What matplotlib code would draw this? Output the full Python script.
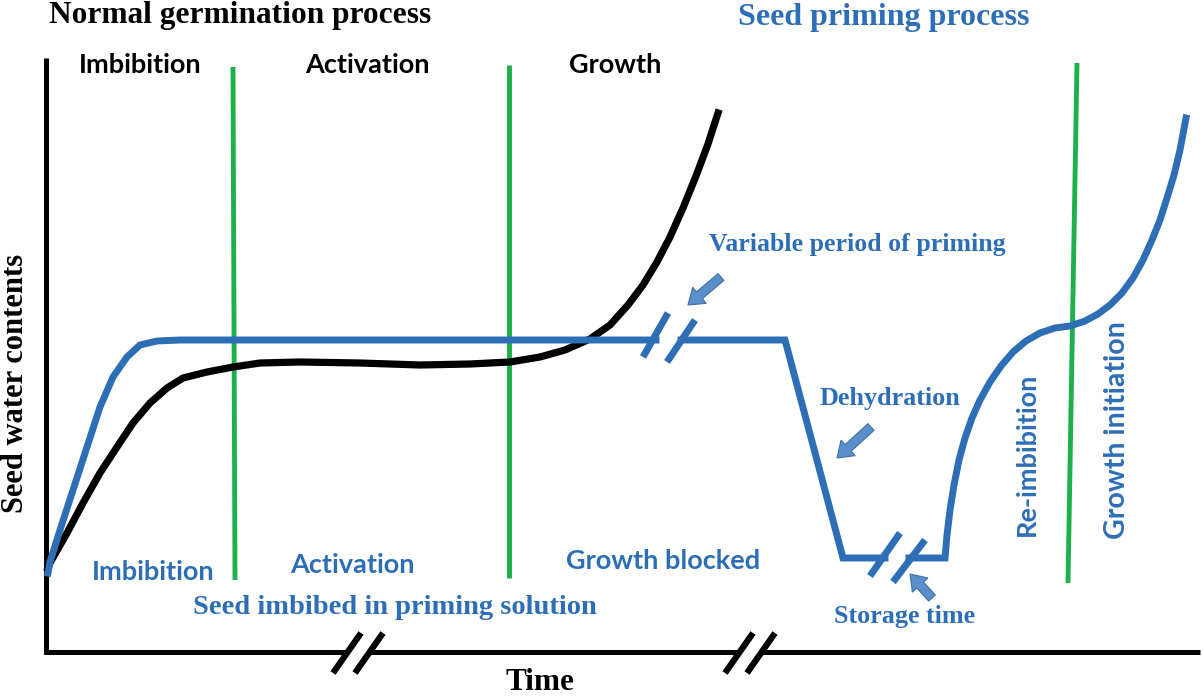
import matplotlib.pyplot as plt
from matplotlib.patches import FancyArrow

# curve points (time, water content) in image pixel units
black_t = [48, 50, 67, 83, 100, 117, 133, 150, 167, 183, 207, 233, 260, 300, 360, 420,
           470, 510, 540, 565, 590, 610, 628, 643, 657, 670, 683, 696, 708, 718]
black_w = [568, 563, 533, 503, 473, 447, 423, 403, 388, 378, 372, 367, 363, 362, 363, 365,
           364, 362, 357, 350, 339, 325, 305, 285, 262, 237, 208, 176, 144, 113]

# priming curve, split at the two breaks
prime1_t = [48, 50, 60, 73, 87, 100, 113, 127, 140, 157, 180, 656]
prime1_w = [573, 562, 530, 490, 447, 407, 377, 357, 345, 341, 340, 340]
prime2_t = [681, 785, 843, 885]
prime2_w = [340, 340, 558, 558]
prime3_t = [909, 945, 947, 950, 954, 959, 965, 972, 980, 990, 1001, 1013, 1026, 1040,
            1055, 1070, 1085, 1098, 1110, 1122, 1133, 1143, 1152, 1160, 1167, 1174,
            1180, 1186]
prime3_w = [558, 558, 535, 510, 485, 460, 438, 418, 400, 382, 366, 352, 341, 333,
            328, 326, 321, 314, 305, 293, 278, 260, 240, 220, 198, 175, 150, 118]

# phase boundaries (top and bottom ends)
phase_x_top = [233, 509, 1077]
phase_x_bot = [235, 509, 1068]
phase_y_top = [67, 65, 63]
phase_y_bot = [580, 578, 583]

BLUE = "#2E6EB5"
GREEN = "#1DB04C"
ARROW = "#5B8FCB"
SERIF = "Liberation Serif"
SANS = "Lato"

fig = plt.figure(figsize=(12.03, 6.98), dpi=100)
ax = fig.add_axes([0, 0, 1, 1])
ax.set_xlim(0, 1203)
ax.set_ylim(698, 0)
ax.axis("off")

# axes with breaks on time axis
ax.plot([46, 46], [58, 654], color="black", lw=3.6, solid_capstyle="butt")
ax.plot([44, 348], [652, 652], color="black", lw=3.6, solid_capstyle="butt")
ax.plot([369, 739], [652, 652], color="black", lw=3.6, solid_capstyle="butt")
ax.plot([760, 1200], [652, 652], color="black", lw=3.6, solid_capstyle="butt")
for x0 in [333, 355, 725, 747]:
    ax.plot([x0, x0 + 28], [673, 633], color="black", lw=4.5, solid_capstyle="butt")

# phase lines
for xt, xb, yt, yb in zip(phase_x_top, phase_x_bot, phase_y_top, phase_y_bot):
    ax.plot([xt, xb], [yt, yb], color=GREEN, lw=3.5, solid_capstyle="butt")

# curves
ax.plot(black_t, black_w, color="black", lw=5.2, solid_joinstyle="round")
for t, w in [(prime1_t, prime1_w), (prime2_t, prime2_w), (prime3_t, prime3_w)]:
    ax.plot(t, w, color=BLUE, lw=5, solid_joinstyle="miter")

# break marks on priming curve
for (x0, y0, x1, y1) in [(643, 357, 668, 313), (667, 362, 695, 320),
                         (870, 576, 900, 533), (893, 582, 925, 540)]:
    ax.plot([x0, x1], [y0, y1], color=BLUE, lw=5, solid_capstyle="butt")

# block arrows
for (x0, y0, x1, y1) in [(721, 277, 688, 305), (871, 427, 837, 458), (932, 598, 910, 574)]:
    ax.add_patch(FancyArrow(x0, y0, x1 - x0, y1 - y0, width=9, head_width=21,
                            head_length=15, length_includes_head=True,
                            fc=ARROW, ec="#41719C", lw=0.8))

# headings
ax.text(240, 16, "Normal germination process", family=SERIF, weight="bold",
        fontsize=22.6, ha="center", va="center", color="black")
ax.text(884, 17, "Seed priming process", family=SERIF, weight="bold",
        fontsize=23, ha="center", va="center", color=BLUE)

for label, x in [("Imbibition", 140), ("Activation", 367), ("Growth", 615)]:
    ax.text(x, 65, label, family=SANS, weight="bold", fontsize=19.5,
            ha="center", va="center", color="black")

for label, x, y in [("Imbibition", 153, 572), ("Activation", 352, 565),
                    ("Growth blocked", 663, 561)]:
    ax.text(x, y, label, family=SANS, weight="bold", fontsize=19.5,
            ha="center", va="center", color=BLUE)

ax.text(1027, 454, "Re-imbibition", family=SANS, weight="bold", fontsize=19.5,
        ha="center", va="center", rotation=90, color=BLUE)
ax.text(1117, 430, "Growth initiation", family=SANS, weight="bold", fontsize=20.5,
        ha="center", va="center", rotation=90, color=BLUE)

for label, x, y, fs in [("Variable period of priming", 857, 244, 18.6),
                        ("Dehydration", 890, 398, 18.8),
                        ("Storage time", 905, 617, 18.8),
                        ("Seed imbibed in priming solution", 395, 608, 20.5)]:
    ax.text(x, y, label, family=SERIF, weight="bold", fontsize=fs,
            ha="center", va="center", color=BLUE)

ax.text(16, 383, "Seed water contents", family=SERIF, weight="bold", fontsize=22,
        ha="center", va="center", rotation=90, color="black")
ax.text(540, 683, "Time", family=SERIF, weight="bold", fontsize=22.5,
        ha="center", va="center", color="black")

fig.savefig("out.png", dpi=100)
